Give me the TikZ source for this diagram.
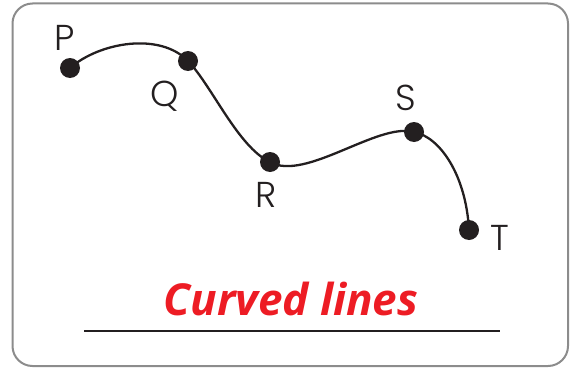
\documentclass[tikz,border=0pt]{standalone}
\usepackage{fontspec}
\setmainfont{Poppins Light}
\newfontfamily\titlefont{Open Sans}
\definecolor{framegray}{HTML}{8C8C8C}
\definecolor{titlered}{HTML}{ED1C24}
\definecolor{inkblack}{HTML}{231F20}
\begin{document}
\begin{tikzpicture}[x=1pt,y=-1pt,
  dot/.style={circle,fill=inkblack,inner sep=0pt,minimum size=20pt},
  lbl/.style={font=\fontsize{36}{36}\selectfont,text=inkblack,inner sep=0pt},
  curveline/.style={line width=2.3pt,draw=inkblack}]
\useasboundingbox (0,0) rectangle (572,369);
\draw[framegray,line width=2pt,rounded corners=20pt] (12.5,3.5) rectangle (568,366);
\node[dot] (P) at (70,68) {};
\node[dot] (Q) at (188,61) {};
\node[dot] (R) at (270,162) {};
\node[dot] (S) at (414,132) {};
\node[dot] (T) at (469,230) {};
\draw[curveline] (P.center) .. controls (100,42) and (160,32) .. (Q.center)
  .. controls (212,86) and (238,147) .. (R.center)
  .. controls (305,182) and (378,122) .. (S.center)
  .. controls (440,137) and (466,175) .. (T.center);
\node[lbl] (lP) at (65,38) {P};
\node[lbl] (lQ) at (165,96) {Q};
\node[lbl] (lR) at (266,195) {R};
\node[lbl] (lS) at (406,98) {S};
\node[lbl] (lT) at (500,238) {T};
\node[font=\titlefont\bfseries\itshape\fontsize{44}{44}\selectfont,text=titlered,inner sep=0pt,anchor=base] (title) at (291,315) {Curved lines};
\coordinate (u1) at (84,331);
\coordinate (u2) at (500,331);
\draw[inkblack,line width=2pt] (u1) -- (u2);
\end{tikzpicture}
\end{document}
